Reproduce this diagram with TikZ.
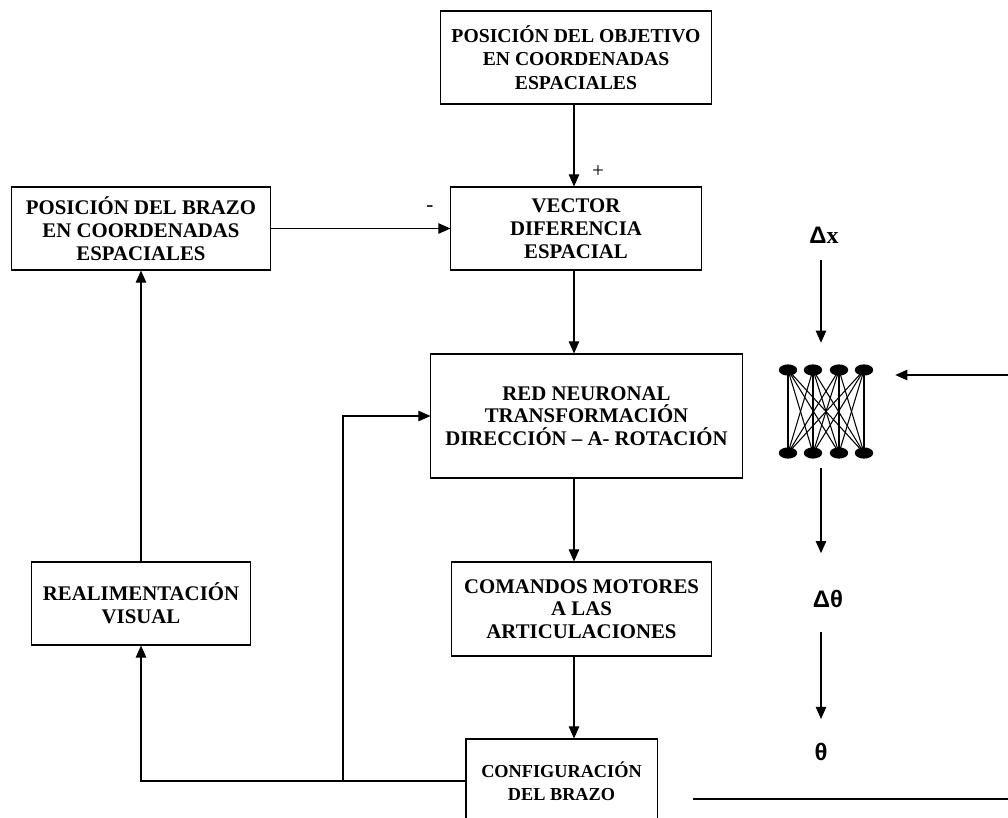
\documentclass[tikz,border=0pt]{standalone}
\usepackage{fontspec}
\setmainfont{Liberation Serif}
\newfontfamily\symfont{Liberation Sans}
\usetikzlibrary{arrows.meta, positioning, shapes.geometric}

\begin{document}
\begin{tikzpicture}[
    x=0.025cm, y=-0.025cm,
    block/.style={rectangle, draw, line width=0.75pt, align=center, inner sep=0pt,
        font=\fontsize{14.8}{16.2}\selectfont\bfseries},
    arrow/.style={-{Triangle[length=3mm, width=2.6mm]}, line width=0.75pt},
    unit/.style={ellipse, fill, inner sep=0pt, minimum width=0.46cm, minimum height=0.28cm},
    sym/.style={inner sep=0pt, font=\fontsize{17}{18}\selectfont\bfseries},
    sign/.style={inner sep=0pt, font=\fontsize{15}{16}\selectfont}
]
\clip (0,0) rectangle (1008,817);

% control loop
\node[block, minimum width=6.75cm, minimum height=2.325cm,
    font=\fontsize{14}{16.6}\selectfont\bfseries] (obj) at (576,57.5)
    {POSICIÓN DEL OBJETIVO\\EN COORDENADAS\\ESPACIALES};
\node[block, minimum width=6.25cm, minimum height=2.075cm] (vec) at (576,228.5)
    {VECTOR\\DIFERENCIA\\ESPACIAL};
\node[block, minimum width=6.45cm, minimum height=2.075cm] (brazo) at (141,228.5)
    {POSICIÓN DEL BRAZO\\EN COORDENADAS\\ESPACIALES};
\node[block, minimum width=7.775cm, minimum height=3.1cm] (red) at (586.5,416)
    {RED NEURONAL\\TRANSFORMACIÓN\\DIRECCIÓN -- A- ROTACIÓN};
\node[block, minimum width=6.475cm, minimum height=2.35cm] (cmd) at (581.5,609)
    {COMANDOS MOTORES\\A LAS\\ARTICULACIONES};
\node[block, minimum width=5.45cm, minimum height=2.075cm] (realim) at (141,603.5)
    {REALIMENTACIÓN\\VISUAL};
\node[block, minimum width=4.775cm, minimum height=2.1cm,
    font=\fontsize{13}{16.2}\selectfont\bfseries] (conf) at (561.5,781)
    {CONFIGURACIÓN\\DEL BRAZO};

\coordinate (spine) at (574,0);
\coordinate (split) at (343,0);

\draw[arrow] (obj.south -| spine) -- (vec.north -| spine);
\draw[arrow] (brazo.east) -- (vec.west);
\node[sign] (plus) at (598,172) {+};
\node[sign] (minus) at (430,209) {-};
\draw[arrow] (vec.south -| spine) -- (red.north -| spine);
\draw[arrow] (red.south -| spine) -- (cmd.north -| spine);
\draw[arrow] (cmd.south -| spine) -- (conf.north -| spine);
\draw[arrow] (conf.west) -| (realim.south);
\draw[arrow] (conf.west -| split) |- (red.west);
\draw[arrow] (realim.north) -- (brazo.south);

% network sketch on the right
\coordinate (col) at (821,0);
\node[sym] (dx) at (824,235) {{\symfont Δ}x};
\node[minimum width=3.45cm, minimum height=3.125cm, inner sep=0pt] (net) at (826,405.5) {};
\foreach \i/\px in {1/788, 2/813, 3/839, 4/864} {
    \node[unit] (t\i) at (\px,370) {};
    \node[unit] (b\i) at (\px,453) {};
}
\foreach \i in {1,...,4}
    \foreach \j in {1,...,4}
        \draw[line width=0.75pt] (t\i.center) -- (b\j.center);
\node[sym] (dth) at (828,599) {\symfont Δθ};
\node[sym] (th) at (821,752) {\symfont θ};

\coordinate (fb) at (1008,375);
\draw[arrow, shorten <=0.42cm] (dx.south -| col) -- (net.north -| col);
\draw[arrow] (fb) -- (fb -| net.east);
\draw[arrow, shorten >=0.92cm] (net.south -| col) -- (dth.north -| col);
\draw[arrow, shorten <=0.6cm, shorten >=0.6cm] (dth.south -| col) -- (th.north -| col);
\draw[line width=0.75pt] (693,799) -- (1008,799);
\end{tikzpicture}
\end{document}
